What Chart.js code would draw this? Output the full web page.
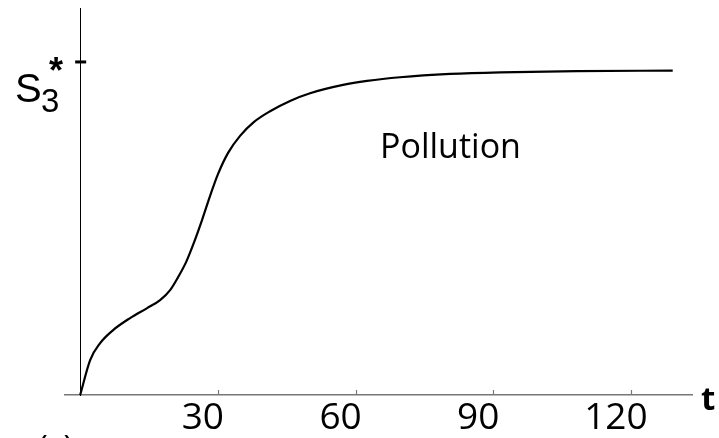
<!DOCTYPE html>
<html>
<head>
<meta charset="utf-8">
<script src="https://cdn.jsdelivr.net/npm/chart.js@4"></script>
<style>
  html, body { margin: 0; padding: 0; background: #fff; }
  #wrap { width: 719px; height: 438px; }
</style>
</head>
<body>
<div id="wrap"><canvas id="pollutionChart"></canvas></div>
<script>
// time values and the pollution level (S3* = 1)
const times = [0, 2.18, 4.36, 7.19, 10.89, 14.59, 17.42, 19.6, 21.34, 23.08, 24.83, 26.57, 28.31, 30.05, 32.23, 34.84, 37.89, 41.38, 45.73, 50.09, 57.27, 62.5, 69.7, 80.6, 91.5, 108.2, 129.1];
const pollution = [0, 0.105, 0.156, 0.195, 0.231, 0.261, 0.285, 0.315, 0.354, 0.399, 0.459, 0.526, 0.598, 0.664, 0.727, 0.778, 0.82, 0.852, 0.883, 0.906, 0.931, 0.943, 0.954, 0.964, 0.969, 0.9725, 0.974];
const xTicks = [30, 60, 90, 120];
const equilibrium = 1; // S3*

const points = times.map((t, i) => ({ x: t, y: pollution[i] }));

// little tick marks + the hand placed labels
const extras = {
  id: "extras",
  afterDraw(chart) {
    const { ctx, scales } = chart;
    const xs = scales.x, ys = scales.y;
    const y0 = ys.getPixelForValue(0);
    const x0 = xs.getPixelForValue(0);
    ctx.save();
    ctx.strokeStyle = "#777";
    ctx.lineWidth = 1.2;
    xTicks.forEach((t) => {
      const px = Math.round(xs.getPixelForValue(t)) + 0.5;
      ctx.beginPath();
      ctx.moveTo(px, y0);
      ctx.lineTo(px, y0 - 5);
      ctx.stroke();
    });
    const py = ys.getPixelForValue(equilibrium);
    ctx.strokeStyle = "#000";
    ctx.lineWidth = 3;
    ctx.beginPath();
    ctx.moveTo(x0 - 5, py);
    ctx.lineTo(x0 + 6, py);
    ctx.stroke();

    ctx.fillStyle = "#000";
    ctx.textBaseline = "alphabetic";
    ctx.font = "40px 'Liberation Sans'";
    ctx.fillText("S", 15, 102);
    ctx.font = "33px 'Liberation Sans'";
    ctx.fillText("3", 41, 112);
    ctx.font = "bold 36px 'Liberation Sans'";
    ctx.fillText("*", 49, 83);

    ctx.font = "34px 'Open Sans'";
    ctx.fillText("Pollution", 380, 158);
    ctx.font = "bold 33px 'Open Sans'";
    ctx.fillText("t", 701, 410);
    ctx.font = "33px 'Open Sans'";
    ctx.fillText("(c)", 38, 459);
    ctx.restore();
  },
};

const ctx = document.getElementById("pollutionChart").getContext("2d");
const chart = new Chart(ctx, {
  type: "line",
  data: {
    datasets: [
      {
        data: points,
        borderColor: "#000",
        borderWidth: 2.2,
        pointRadius: 0,
        cubicInterpolationMode: "monotone",
        fill: false,
      },
    ],
  },
  options: {
    responsive: true,
    maintainAspectRatio: false,
    animation: false,
    layout: { padding: { left: 65, right: 27, top: 8, bottom: 0 } },
    plugins: {
      legend: { display: false },
      tooltip: { enabled: false },
    },
    scales: {
      x: {
        type: "linear",
        position: "bottom",
        min: -3.3,
        max: 133.3,
        afterBuildTicks: (scale) => {
          scale.ticks = xTicks.map((v) => ({ value: v }));
        },
        afterFit: (scale) => {
          scale.height = 43;
        },
        grid: { display: false, drawTicks: false },
        border: { color: "#777", width: 1.5 },
        ticks: {
          autoSkip: false,
          maxRotation: 0,
          padding: 5,
          labelOffset: -15,
          color: "#000",
          font: { family: "'Open Sans'", size: 37, weight: 500, lineHeight: 1.0 },
        },
      },
      y: {
        type: "linear",
        position: { x: 0 },
        min: 0,
        max: 1.162,
        grid: { display: false, drawTicks: false },
        border: { color: "#000", width: 1 },
        ticks: { display: false },
      },
    },
  },
  plugins: [extras],
});
</script>
</body>
</html>
